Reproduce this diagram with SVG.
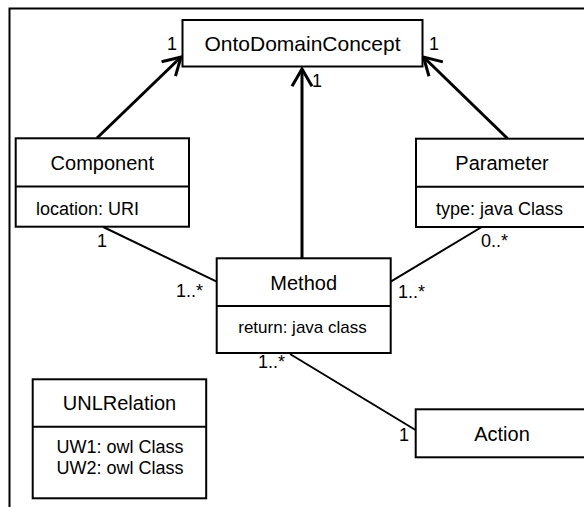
<svg xmlns="http://www.w3.org/2000/svg" width="584" height="507" viewBox="0 0 584 507">
  <style>
    text { font-family: "Liberation Sans", Arial, sans-serif; fill: #000; }
    .name { font-size: 20px; text-anchor: middle; }
    .attr { font-size: 18px; }
    .mult { font-size: 18px; }
    .box { fill: #fff; stroke: #000; stroke-width: 2; }
    .sep { stroke: #000; stroke-width: 2; }
    .assoc { stroke: #000; stroke-width: 2; fill: none; }
    .gen { stroke: #000; stroke-width: 3; fill: none; marker-end: url(#open); }
  </style>
  <defs>
    <marker id="open" markerUnits="userSpaceOnUse" markerWidth="30" markerHeight="30" viewBox="-20 -15 25 30" refX="0" refY="0" orient="auto">
      <path d="M -17.3 -10 L 0 0 L -17.3 10" fill="none" stroke="#000" stroke-width="3"/>
    </marker>
  </defs>

  <rect width="584" height="507" fill="#fff"/>
  <!-- package frame -->
  <path d="M 9.5 515 L 9.5 8.5 L 600 8.5" fill="none" stroke="#000" stroke-width="2"/>

  <g id="connectors">
    <line class="gen" x1="97" y1="138" x2="181" y2="57"/>
    <line class="gen" x1="302" y1="258" x2="302" y2="69"/>
    <line class="gen" x1="507.5" y1="138.5" x2="423.5" y2="57"/>
    <line class="assoc" x1="103.3" y1="227" x2="216.7" y2="281.7"/>
    <line class="assoc" x1="481.7" y1="227" x2="390.7" y2="281.7"/>
    <line class="assoc" x1="290" y1="354" x2="418" y2="431.5"/>
    <text class="mult" x="167" y="50">1</text>
    <text class="mult" x="429" y="50">1</text>
    <text class="mult" x="312" y="87">1</text>
    <text class="mult" x="97" y="246.5">1</text>
    <text class="mult" x="176" y="297">1..*</text>
    <text class="mult" x="398" y="298">1..*</text>
    <text class="mult" x="481" y="246.5">0..*</text>
    <text class="mult" x="258" y="368">1..*</text>
    <text class="mult" x="399" y="441">1</text>
  </g>

  <g id="OntoDomainConcept">
    <rect class="box" x="182.5" y="20" width="240" height="46.5"/>
    <text class="name" x="302.5" y="51" style="font-size:21px">OntoDomainConcept</text>
  </g>

  <g id="Component">
    <rect class="box" x="15.7" y="138.3" width="173.3" height="88.4"/>
    <line class="sep" x1="15.7" y1="186.5" x2="189" y2="186.5"/>
    <text class="name" x="102.3" y="170">Component</text>
    <text class="attr" x="36" y="215">location: URI</text>
  </g>

  <g id="Parameter">
    <rect class="box" x="416" y="138.7" width="172" height="88.3"/>
    <line class="sep" x1="416" y1="186.7" x2="588" y2="186.7"/>
    <text class="name" x="502" y="170">Parameter</text>
    <text class="attr" x="436" y="215">type: java Class</text>
  </g>

  <g id="Method">
    <rect class="box" x="216.7" y="258.3" width="174" height="94.7"/>
    <line class="sep" x1="216.7" y1="306" x2="390.7" y2="306"/>
    <text class="name" x="303.7" y="290">Method</text>
    <text class="attr" x="302.5" y="333" style="font-size:17px;text-anchor:middle">return: java class</text>
  </g>

  <g id="Action">
    <rect class="box" x="415.7" y="409.3" width="172" height="48"/>
    <text class="name" x="502" y="441">Action</text>
  </g>

  <g id="UNLRelation">
    <rect class="box" x="32.7" y="379.3" width="173.5" height="119"/>
    <line class="sep" x1="32.7" y1="426.7" x2="206.2" y2="426.7"/>
    <text class="name" x="119.5" y="410">UNLRelation</text>
    <text class="attr" x="120" y="453" text-anchor="middle">UW1: owl Class</text>
    <text class="attr" x="120" y="473.5" text-anchor="middle">UW2: owl Class</text>
  </g>
</svg>
